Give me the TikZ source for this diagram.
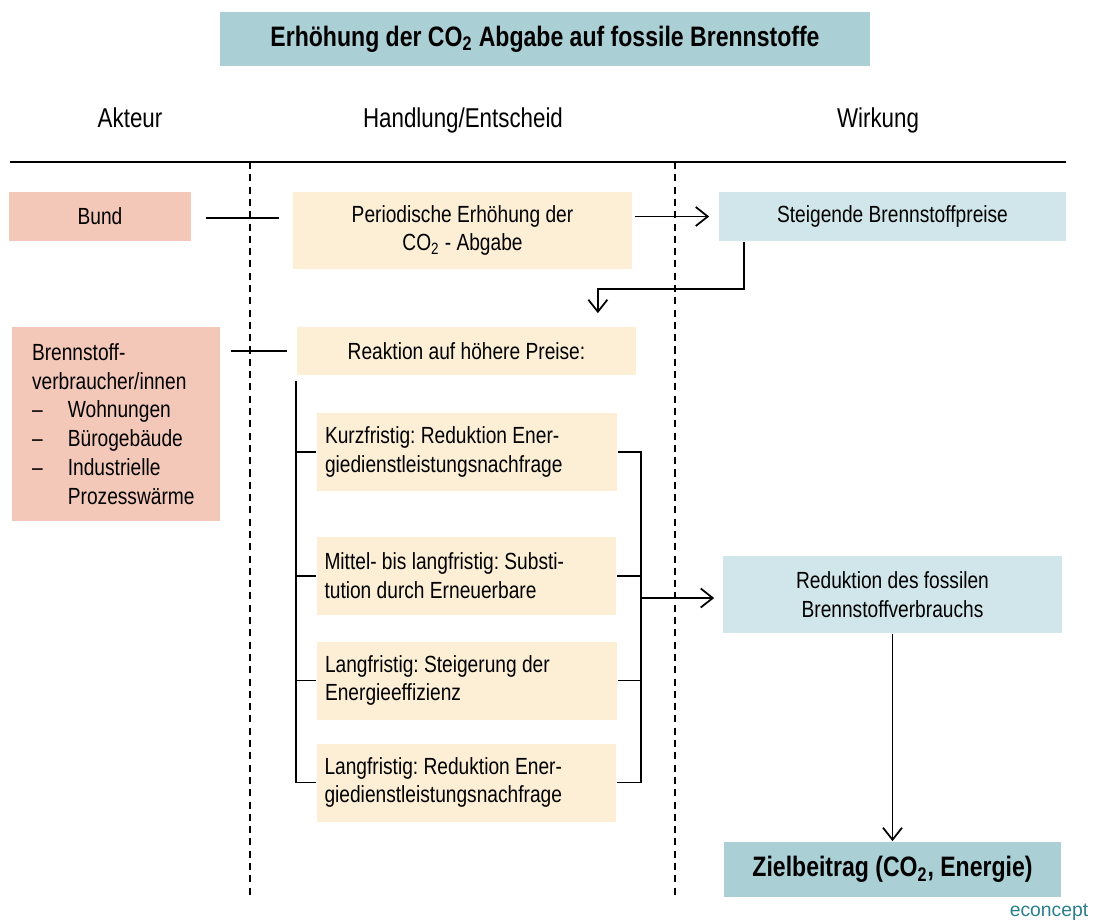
\documentclass[tikz,border=0pt]{standalone}
\usepackage{fontspec}
\setmainfont{Liberation Sans}[FakeStretch=0.82]
\newfontfamily\logofont{Liberation Sans}
\usetikzlibrary{arrows.meta}
\definecolor{aktcol}{HTML}{F4C8B8}
\definecolor{handcol}{HTML}{FCEFD6}
\definecolor{wirkcol}{HTML}{D1E6EB}
\definecolor{titcol}{HTML}{AACFD5}
\definecolor{logocol}{HTML}{2A808A}
\frenchspacing
\tikzset{box/.style={inner sep=0pt,align=center,font=\fontsize{13.3}{16.4}\selectfont},
  arr/.style={-{Straight Barb[length=2.4mm,width=3.8mm]}}}

\begin{document}
\begin{tikzpicture}[x=0.02cm,y=-0.02cm,line width=1pt,
    head/.style={anchor=base,font=\fontsize{15.5}{18}\selectfont},
    sub/.style={box,fill=handcol,align=flush left,text width=5.68cm,inner xsep=0.16cm,minimum height=1.56cm},
    sep/.style={dash pattern=on 4pt off 3pt}]
    \useasboundingbox (0,0) rectangle (1094,920);
    % title and column heads
    \node [box,fill=titcol,minimum width=13cm,minimum height=1.08cm,
        font=\fontsize{16}{19}\selectfont\bfseries] (titel) at (545,39)
        {Erhöhung der CO\textsubscript{2} Abgabe auf fossile Brennstoffe};
    \node [head] (akteur) at (130,127) {Akteur};
    \node [head] (handlung) at (463,127) {Handlung/Entscheid};
    \node [head] (wirkung) at (878,127) {Wirkung};
    \draw (10,162) -- (1066,162);
    \draw [sep] (250,162) -- (250,895);
    \draw [sep] (675,162) -- (675,895);
    % Akteure
    \node [box,fill=aktcol,minimum width=3.64cm,minimum height=0.98cm] (bund) at (100,216.5) {Bund};
    \node [box,fill=aktcol,align=flush left,text width=3.36cm,inner xsep=0.4cm,minimum height=3.88cm] (verbr) at (116,424)
        {Brennstoff-\\verbraucher/innen\\
         \makebox[20.4pt][l]{--}Wohnungen\\
         \makebox[20.4pt][l]{--}Bürogebäude\\
         \makebox[20.4pt][l]{--}Industrielle\\
         \hspace*{20.4pt}Prozesswärme};
    % Handlung
    \node [box,fill=handcol,minimum width=6.78cm,minimum height=1.54cm] (abgabe) at (462.5,230.5)
        {Periodische Erhöhung der\\CO\textsubscript{2} - Abgabe};
    \node [box,fill=handcol,minimum width=6.78cm,minimum height=0.96cm] (reakt) at (466.5,351)
        {Reaktion auf höhere Preise:};
    \node [sub] (kurz) at (467,452) {Kurzfristig: Reduktion Ener-\\giedienstleistungsnachfrage};
    \node [sub] (mittel) at (466.5,576) {Mittel- bis langfristig: Substi-\\tution durch Erneuerbare};
    \node [sub] (lang) at (467,680.5) {Langfristig: Steigerung der\\Energieeffizienz};
    \node [sub] (langred) at (466.5,782.5) {Langfristig: Reduktion Ener-\\giedienstleistungsnachfrage};
    % Wirkung
    \node [box,fill=wirkcol,minimum width=6.94cm,minimum height=0.98cm] (preise) at (892.5,216.5)
        {Steigende Brennstoffpreise};
    \node [box,fill=wirkcol,minimum width=6.78cm,minimum height=1.54cm] (verbrauch) at (892.5,594.5)
        {Reduktion des fossilen\\Brennstoffverbrauchs};
    \node [box,fill=titcol,minimum width=6.74cm,minimum height=1.1cm,
        font=\fontsize{16}{19}\selectfont\bfseries] (ziel) at (892.5,869.5)
        {Zielbeitrag (CO\textsubscript{2}, Energie)};
    \node [text=logocol,font=\logofont\fontsize{11}{13}\selectfont] (logo) at (1049,912) {econcept};
    % connectors
    \draw [shorten <=0.28cm,shorten >=0.26cm] (bund.east |- 0,218) -- (abgabe.west |- 0,218);
    \draw [arr,shorten <=0.04cm,shorten >=0.18cm] (abgabe.east |- preise) -- (preise.west);
    \draw [arr,shorten >=0.26cm] ([xshift=0.52cm]preise.south west) -- ++(0,47)
        -| ([xshift=-0.78cm]reakt.north east);
    \draw [shorten <=0.2cm,shorten >=0.18cm] (verbr.east |- reakt) -- (reakt.west);
    \draw ([yshift=-0.1cm]reakt.south west) |- (langred.west);
    \foreach \b in {kurz,mittel,lang}
        \draw (reakt.west |- \b.west) -- (\b.west);
    \draw (kurz.east) -- ++(23,0) coordinate (rb) |- (langred.east);
    \foreach \b in {mittel,lang}
        \draw (\b.east) -- (rb |- \b.east);
    \draw [arr,shorten >=0.16cm] (rb |- 0,598) -- (verbrauch.west |- 0,598);
    \draw [arr] (verbrauch.south) -- (ziel.north);
\end{tikzpicture}
\end{document}
